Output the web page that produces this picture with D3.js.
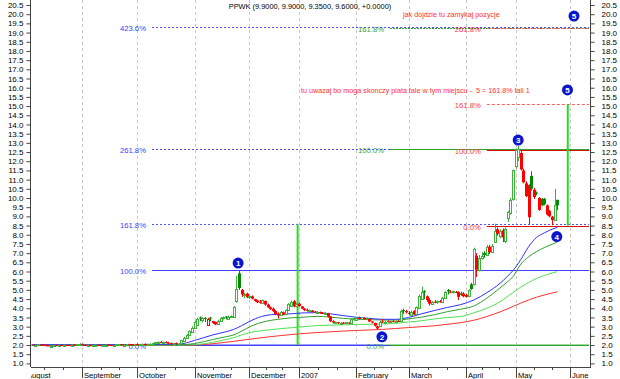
<!DOCTYPE html>
<html>
<head>
<meta charset="utf-8">
<script src="https://cdn.jsdelivr.net/npm/d3@7"></script>
<style>
  body { margin: 0; background: #fff; }
  svg { display: block; font-family: "Liberation Sans", Arial, sans-serif; }
</style>
</head>
<body>
<svg id="chart" width="620" height="379"></svg>
<script>
// --- dane: świece dzienne [open, high, low, close], indeks sesji od 1 września = 0
const firstIdx = -19;
const candAug = [[2.02,2.05,1.98,2.00],[2.00,2.04,1.97,2.01],[2.01,2.05,1.98,2.03],[2.03,2.06,2.00,2.02],[2.02,2.04,1.97,1.99],[1.99,2.02,1.96,1.98],[1.98,2.00,1.94,1.95],[1.95,1.98,1.92,1.96],[1.96,2.00,1.94,1.99],[1.99,2.02,1.96,1.97],[1.97,2.01,1.95,2.00],[2.00,2.03,1.97,1.98],[1.98,2.02,1.96,2.01],[2.01,2.04,1.98,2.00],[2.00,2.03,1.97,1.99],[1.99,2.03,1.97,2.02],[2.02,2.05,1.99,2.01],[2.01,2.04,1.98,2.03],[2.03,2.10,2.01,2.06]];
const candSep = [[2.06,2.08,2.00,2.01],[2.01,2.03,1.97,1.98],[1.98,2.01,1.95,1.99],[1.99,2.02,1.96,1.97],[1.97,2.00,1.94,1.98],[1.98,2.02,1.96,2.00],[2.00,2.03,1.97,1.99],[1.99,2.01,1.95,1.97],[1.97,2.00,1.95,1.99],[1.99,2.03,1.97,2.02],[2.02,2.04,1.98,2.00],[2.00,2.02,1.97,1.98],[1.98,2.01,1.96,2.00],[2.00,2.04,1.98,2.03],[2.03,2.06,2.00,2.04],[2.04,2.06,2.00,2.01],[2.01,2.04,1.99,2.02],[2.02,2.05,2.00,2.04],[2.04,2.07,2.01,2.03],[2.03,2.05,2.00,2.02],[2.02,2.06,2.00,2.05]];
const candOct = [[2.05,2.08,2.01,2.03],[2.03,2.06,2.00,2.04],[2.04,2.08,2.02,2.06],[2.06,2.09,2.02,2.04],[2.04,2.07,2.01,2.05],[2.05,2.08,2.02,2.07],[2.07,2.12,2.04,2.10],[2.10,2.16,2.07,2.14],[2.14,2.20,2.10,2.17],[2.17,2.22,2.12,2.15],[2.15,2.19,2.10,2.16],[2.16,2.20,2.11,2.13],[2.13,2.17,2.08,2.10],[2.10,2.14,2.05,2.08],[2.08,2.12,2.04,2.10],[2.10,2.14,2.06,2.07],[2.07,2.11,2.03,2.08],[2.08,2.28,2.06,2.25],[2.25,2.45,2.20,2.40],[2.40,2.60,2.36,2.55],[2.55,2.80,2.50,2.75],[2.75,3.02,2.70,2.95]];
const candNov = [[2.95,3.32,2.92,3.25],[3.12,3.48,3.08,3.42],[3.50,3.55,3.30,3.44],[3.36,3.52,3.22,3.45],[3.48,3.52,3.25,3.46],[3.12,3.48,3.08,3.44],[3.50,3.52,3.30,3.45],[3.30,3.32,3.15,3.20],[3.25,3.28,3.08,3.12],[3.18,3.38,3.15,3.32],[3.30,3.52,3.28,3.48],[3.45,3.55,3.38,3.50],[3.55,3.58,3.40,3.51],[3.45,3.60,3.42,3.55],[3.52,3.62,3.48,3.58],[3.55,4.12,3.52,4.08],[4.40,5.75,4.30,5.05],[5.90,6.08,5.00,5.10],[5.00,5.05,4.62,4.75],[4.72,4.85,4.55,4.80],[4.80,4.85,4.55,4.60]];
const candDec = [[4.62,4.68,4.50,4.65],[4.65,4.70,4.48,4.52],[4.50,4.52,4.35,4.40],[4.42,4.45,4.28,4.32],[4.35,4.45,4.25,4.30],[4.28,4.48,4.25,4.45],[4.40,4.42,4.15,4.20],[4.20,4.25,4.02,4.05],[4.05,4.10,3.92,3.95],[3.98,4.05,3.80,3.85],[3.85,3.90,3.62,3.68],[3.70,3.78,3.45,3.60],[3.62,3.85,3.58,3.80],[3.78,3.82,3.62,3.66],[3.68,3.95,3.65,3.92],[3.90,4.28,3.88,4.22],[4.15,4.42,4.10,4.35],[4.38,4.45,4.05,4.10],[4.12,4.30,4.05,4.25]];
const candJan = [[4.25,4.30,4.08,4.12],[4.10,4.12,3.95,3.98],[3.98,4.02,3.85,3.90],[3.92,3.98,3.82,3.86],[3.86,3.92,3.80,3.88],[3.88,3.90,3.78,3.80],[3.82,3.86,3.74,3.78],[3.78,3.85,3.72,3.80],[3.80,3.82,3.70,3.74],[3.75,3.80,3.68,3.72],[3.72,3.78,3.68,3.75],[3.72,3.75,3.50,3.55],[3.55,3.58,3.25,3.30],[3.30,3.35,3.18,3.22],[3.22,3.28,3.16,3.24],[3.24,3.26,3.15,3.18],[3.18,3.25,3.14,3.22],[3.22,3.25,3.15,3.17],[3.17,3.26,3.15,3.23],[3.22,3.24,3.14,3.18],[3.20,3.45,3.18,3.42],[3.40,3.50,3.32,3.45]];
const candFeb = [[3.35,3.52,3.32,3.48],[3.48,3.55,3.38,3.42],[3.40,3.52,3.36,3.50],[3.48,3.50,3.38,3.40],[3.42,3.50,3.36,3.45],[3.42,3.44,3.25,3.28],[3.28,3.30,3.18,3.22],[3.20,3.22,3.00,3.05],[3.02,3.05,2.85,2.90],[3.05,3.32,3.00,3.25],[3.28,3.42,3.20,3.24],[3.24,3.32,3.20,3.28],[3.30,3.34,3.22,3.26],[3.26,3.32,3.22,3.30],[3.30,3.35,3.24,3.28],[3.28,3.34,3.24,3.31],[3.31,3.36,3.26,3.30],[3.30,3.92,3.28,3.85],[3.90,3.98,3.70,3.86],[3.85,3.92,3.72,3.78]];
const candMar = [[3.75,3.85,3.62,3.70],[3.65,3.88,3.62,3.82],[3.85,3.90,3.62,3.66],[3.66,4.10,3.62,4.05],[4.05,4.75,4.00,4.68],[4.50,5.18,4.45,4.90],[4.95,4.98,4.50,4.92],[4.65,4.70,4.35,4.45],[4.45,4.55,4.15,4.25],[4.25,4.40,4.18,4.35],[4.35,4.45,4.28,4.30],[4.30,4.42,4.25,4.38],[4.38,4.45,4.30,4.34],[4.35,4.62,4.32,4.58],[4.58,4.95,4.55,4.90],[5.00,5.05,4.75,4.92],[4.90,4.98,4.82,4.88],[4.86,4.95,4.80,4.92],[4.90,4.94,4.82,4.86],[4.88,4.92,4.45,4.62],[4.80,4.90,4.68,4.72],[4.80,4.88,4.60,4.65]];
const candApr = [[4.72,4.80,4.58,4.62],[4.68,5.05,4.65,4.98],[5.30,5.38,5.00,5.05],[5.30,7.30,5.25,7.22],[6.85,7.00,5.70,6.10],[6.10,6.90,6.00,6.75],[6.75,7.05,6.65,6.85],[7.00,7.10,6.75,6.90],[6.90,7.45,6.85,7.35],[7.35,7.45,6.95,7.05],[7.05,7.50,7.00,7.40],[7.60,8.60,7.55,8.20],[8.30,8.40,7.95,8.05],[7.95,8.30,7.80,8.20],[8.25,8.35,7.60,7.85],[7.65,8.40,7.55,8.30],[8.90,9.30,8.70,9.25],[9.20,10.00,9.10,9.90],[9.90,11.55,9.85,11.50]];
const candMay = [[11.75,12.70,11.60,12.60],[12.20,12.85,12.00,12.65],[12.45,12.60,11.50,11.55],[11.50,11.60,10.80,10.85],[10.80,10.90,10.05,10.10],[10.70,10.75,8.55,8.95],[11.20,11.45,10.40,10.50],[10.45,10.55,9.95,10.05],[10.30,10.35,10.15,10.25],[10.00,10.05,9.30,9.35],[9.95,10.00,9.55,9.60],[9.95,10.00,9.60,9.65],[9.60,9.65,9.05,9.10],[9.30,9.35,8.95,9.00],[8.98,9.02,8.52,8.80],[8.80,10.50,8.75,9.60],[9.90,9.90,9.35,9.60]];

// osie czasu: miesiące (indeks pierwszej sesji)
const monthNames = ["August", "September", "October", "November", "December", "2007", "February", "March", "April", "May", "June"];
const monthStart = [-22, 0, 21, 43, 64, 83, 105, 125, 147, 166, 187];

// średnie kroczące (odczytane punkty)
const maIdx      = [-19, 0, 20, 37, 43, 50, 55, 58, 61, 65, 70, 75, 80, 85, 90, 95, 100, 105, 110, 115, 120, 125, 130, 135, 140, 145, 150, 155, 160, 163, 165, 168, 171, 174, 177, 180, 182];
const maBlue     = [2.02, 2.00, 2.03, 2.05, 2.25, 2.55, 2.72, 2.85, 3.05, 3.35, 3.60, 3.68, 3.70, 3.75, 3.76, 3.70, 3.60, 3.51, 3.45, 3.40, 3.40, 3.50, 3.70, 3.88, 4.05, 4.20, 4.45, 4.85, 5.35, 5.75, 6.05, 6.65, 7.35, 7.85, 8.10, 8.30, 8.40];
const maDkGreen  = [2.00, 2.00, 2.00, 2.01, 2.08, 2.30, 2.45, 2.55, 2.75, 3.05, 3.28, 3.40, 3.48, 3.52, 3.56, 3.52, 3.45, 3.41, 3.38, 3.36, 3.36, 3.42, 3.52, 3.65, 3.82, 3.95, 4.12, 4.55, 5.10, 5.45, 5.72, 6.40, 6.80, 7.08, 7.30, 7.48, 7.60];
const maLtGreen  = [2.00, 2.00, 2.00, 2.00, 2.02, 2.15, 2.30, 2.40, 2.55, 2.70, 2.80, 2.88, 2.94, 3.00, 3.06, 3.08, 3.10, 3.12, 3.13, 3.14, 3.18, 3.25, 3.32, 3.42, 3.50, 3.55, 3.75, 4.00, 4.35, 4.65, 4.85, 5.15, 5.40, 5.62, 5.78, 5.92, 5.99];
const maRed      = [1.98, 1.98, 1.98, 1.99, 2.00, 2.07, 2.15, 2.20, 2.26, 2.33, 2.42, 2.50, 2.57, 2.63, 2.68, 2.72, 2.76, 2.79, 2.82, 2.85, 2.90, 2.95, 3.00, 3.05, 3.13, 3.22, 3.35, 3.55, 3.80, 3.97, 4.10, 4.28, 4.45, 4.60, 4.72, 4.83, 4.90];

// Fibonacci: poziomy procentowe i punkty zaczepienia
const blueLevels = [0, 100, 161.8, 261.8, 423.6];
const blueBase = [2.0, 6.08];
const blueStartIdx = 26.7;
const greenLevels = [0, 100, 161.8];
const greenBase = [2.0, 12.65];
const greenStartIdx = 117.9;
const redLevels = [0, 100, 161.8, 261.8];
const redBase = [8.5, 12.6];
const redStartIdx = 155;

// pionowe odcinki (rzut długości fali 1)
const projLines = [[82.5, 2.0, 8.6], [186, 8.5, 15.1]];

// numeracja fal
const waveLabels = ["1", "2", "3", "4", "5", "5"];
const waveIdx = [59.7, 114.8, 167, 181.8, 188.4, 185.9];
const waveVal = [6.46, 2.45, 13.15, 7.90, 19.90, 15.88];

const titleText = "PPWK (9.9000, 9.9000, 9.3500, 9.6000, +0.0000)";
const note1 = "jak dojdzie tu zamykaj pozycje";
const note2 = "tu uwazaj bo moga skonczy piata fale w tym miejscu -  5 = 161.8% fali 1";

// --- rysowanie
const svg = d3.select("#chart");
const area = { left: 31, right: 589, top: 0, bottom: 367 };

const candles = [].concat(candAug, candSep, candOct, candNov, candDec, candJan, candFeb, candMar, candApr, candMay)
  .map((d, i) => ({ idx: firstIdx + i, o: d[0], h: d[1], l: d[2], c: d[3] }));

const scX = d3.scaleLinear().domain([-19.66, 194.14]).range([area.left, area.right]);
const scY = d3.scaleLinear().domain([0.805, 20.772]).range([area.bottom, area.top]);

svg.append("defs").append("clipPath").attr("id", "clip")
  .append("rect").attr("x", area.left).attr("y", area.top)
  .attr("width", area.right - area.left).attr("height", area.bottom - area.top);

const plot = svg.append("g").attr("clip-path", "url(#clip)");

// siatka pionowa na początkach miesięcy
plot.selectAll(".grid").data(monthStart).enter().append("line")
  .attr("x1", d => Math.round(scX(d)) + 0.5).attr("x2", d => Math.round(scX(d)) + 0.5)
  .attr("y1", area.top).attr("y2", area.bottom)
  .style("stroke", "#c8c8c8").style("stroke-dasharray", "3,3");

// linie Fibonacciego
function fibValue(base, p) { return base[0] + p / 100 * (base[1] - base[0]); }

function drawFib(levels, base, startIdx, color, solidColor, dash, labelColor) {
  levels.forEach(p => {
    const v = fibValue(base, p);
    const yy = Math.round(scY(v)) + 0.5;
    const solid = (p === 0 || p === 100);
    plot.append("line")
      .attr("x1", scX(startIdx)).attr("x2", area.right)
      .attr("y1", yy).attr("y2", yy)
      .style("stroke", solid ? solidColor : color)
      .style("stroke-width", 1)
      .style("stroke-dasharray", solid ? null : dash);
    plot.append("text")
      .attr("x", scX(startIdx) - 6).attr("y", yy + 3)
      .attr("text-anchor", "end")
      .style("font-size", "7.7px").style("fill", labelColor)
      .text(p.toFixed(1) + "%");
  });
}

// 0% niebieskie i zielone – grubsze
plot.append("line").attr("x1", area.left).attr("x2", area.right)
  .attr("y1", scY(blueBase[0])).attr("y2", scY(blueBase[0]))
  .style("stroke", "#a0a0ff").style("stroke-width", 2);
plot.append("line").attr("x1", scX(greenStartIdx) - 7).attr("x2", area.right)
  .attr("y1", scY(greenBase[0])).attr("y2", scY(greenBase[0]))
  .style("stroke", "#a0dca0").style("stroke-width", 2);

drawFib(blueLevels, blueBase, blueStartIdx, "#5050ff", "#4040ff", "2,2", "#4040ff");
drawFib(greenLevels, greenBase, greenStartIdx, "#30a030", "#30a030", "2,1", "#40a040");
drawFib(redLevels, redBase, redStartIdx, "#ff6060", "#d81000", "3,2", "#ff4040");

// pionowe odcinki
plot.selectAll(".proj").data(projLines).enter().append("line")
  .attr("x1", d => scX(d[0])).attr("x2", d => scX(d[0]))
  .attr("y1", d => scY(d[2])).attr("y2", d => scY(d[1]))
  .style("stroke", "#22dd22").style("stroke-width", 2);

// średnie
const maSeries = [[maRed, "#ff3030"], [maLtGreen, "#50e050"], [maDkGreen, "#30a030"], [maBlue, "#3030ff"]];
const line = d3.line().x(d => scX(d[0])).y(d => scY(d[1])).curve(d3.curveMonotoneX);
maSeries.forEach(([vals, col]) => {
  plot.append("path")
    .datum(maIdx.map((d, i) => [d, vals[i]]))
    .attr("d", line)
    .style("fill", "none").style("stroke", col).style("stroke-width", 1);
});

// świece
const cg = plot.append("g");
candles.forEach((d, i) => {
  const prev = i > 0 ? candles[i - 1].c : d.o;
  const up = d.c >= prev;
  const hollow = d.c > d.o;
  const col = up ? (hollow ? "#3cb43c" : "#008a00") : "#ff0000";
  const cx = Math.round(scX(d.idx));
  cg.append("line")
    .attr("x1", cx + 0.5).attr("x2", cx + 0.5)
    .attr("y1", scY(d.h)).attr("y2", scY(d.l))
    .style("stroke", col);
  const top = scY(Math.max(d.o, d.c)), bot = scY(Math.min(d.o, d.c));
  if (hollow) {
    cg.append("rect")
      .attr("x", cx - 0.5).attr("y", Math.round(top) + 0.5)
      .attr("width", 2).attr("height", Math.max(1, Math.round(bot - top)))
      .style("fill", "#fff").style("stroke", col);
  } else {
    cg.append("rect")
      .attr("x", cx - 1).attr("y", top)
      .attr("width", 3).attr("height", Math.max(1, bot - top))
      .style("fill", col);
  }
});

// oś Y lewa i prawa
const majorTicks = d3.range(1.0, 20.51, 0.5);
const minorTicks = d3.range(0.9, 20.75, 0.1);
function yAxis(gen, xPos, pad) {
  const g = svg.append("g").attr("transform", `translate(${xPos},0)`);
  g.call(gen(scY).tickValues(minorTicks).tickSize(2).tickFormat(""));
  g.call(gen(scY).tickValues(majorTicks).tickSize(4).tickPadding(pad).tickFormat(d3.format(".1f")));
  g.selectAll(".domain").remove();
  g.selectAll("line").style("stroke", "#444");
  g.selectAll("text").style("font-size", "8px").style("fill", "#000")
    .style("font-family", '"Liberation Sans", Arial, sans-serif');
  return g;
}
yAxis(d3.axisLeft, area.left - 0.5, 3);
yAxis(d3.axisRight, area.right + 1.5, 7);
svg.append("line").attr("x1", area.left - 0.5).attr("x2", area.left - 0.5)
  .attr("y1", area.top).attr("y2", area.bottom).style("stroke", "#444");
svg.append("line").attr("x1", area.right + 1.5).attr("x2", area.right + 1.5)
  .attr("y1", area.top).attr("y2", area.bottom).style("stroke", "#444");

// oś X
const axX = svg.append("g");
axX.append("line").attr("x1", area.left).attr("x2", area.right + 2)
  .attr("y1", area.bottom + 0.5).attr("y2", area.bottom + 0.5).style("stroke", "#444");
const axClip = svg.append("defs").append("clipPath").attr("id", "clipx");
axClip.append("rect").attr("x", area.left).attr("y", area.bottom).attr("width", area.right - area.left + 2).attr("height", 20);
const axInner = axX.append("g").attr("clip-path", "url(#clipx)");
monthStart.forEach((m, k) => {
  const xx = Math.round(scX(m)) + 0.5;
  axInner.append("line").attr("x1", xx).attr("x2", xx)
    .attr("y1", area.bottom).attr("y2", area.bottom + 11).style("stroke", "#444");
  axInner.append("text").attr("x", xx + 1.5).attr("y", area.bottom + 10.5)
    .style("font-size", "7.6px").style("fill", "#000").text(monthNames[k]);
  if (k < monthStart.length - 1) {
    const next = monthStart[k + 1];
    [1, 2].forEach(t => {
      const tx = Math.round(scX(m + t * (next - m) / 3)) + 0.5;
      axInner.append("line").attr("x1", tx).attr("x2", tx)
        .attr("y1", area.bottom).attr("y2", area.bottom + 3).style("stroke", "#444");
    });
  }
});

// numery fal
const wg = svg.append("g");
waveLabels.forEach((t, i) => {
  const cx = scX(waveIdx[i]), cy = scY(waveVal[i]);
  wg.append("circle").attr("cx", cx).attr("cy", cy).attr("r", 5.5).style("fill", "#0a14d0");
  wg.append("text").attr("x", cx).attr("y", cy + 3).attr("text-anchor", "middle")
    .style("font-size", "8px").style("font-weight", "bold").style("fill", "#fff").text(t);
});

// teksty
svg.append("text").attr("x", 310).attr("y", 9).attr("text-anchor", "middle")
  .style("font-size", "7.4px").style("fill", "#000").text(titleText);
svg.append("text").attr("x", 403).attr("y", 17)
  .style("font-size", "7.2px").style("fill", "#ff3030").text(note1);
svg.append("text").attr("x", 301).attr("y", 93)
  .style("font-size", "7.2px").style("fill", "#ff3030").style("white-space", "pre").text(note2);
</script>
</body>
</html>
